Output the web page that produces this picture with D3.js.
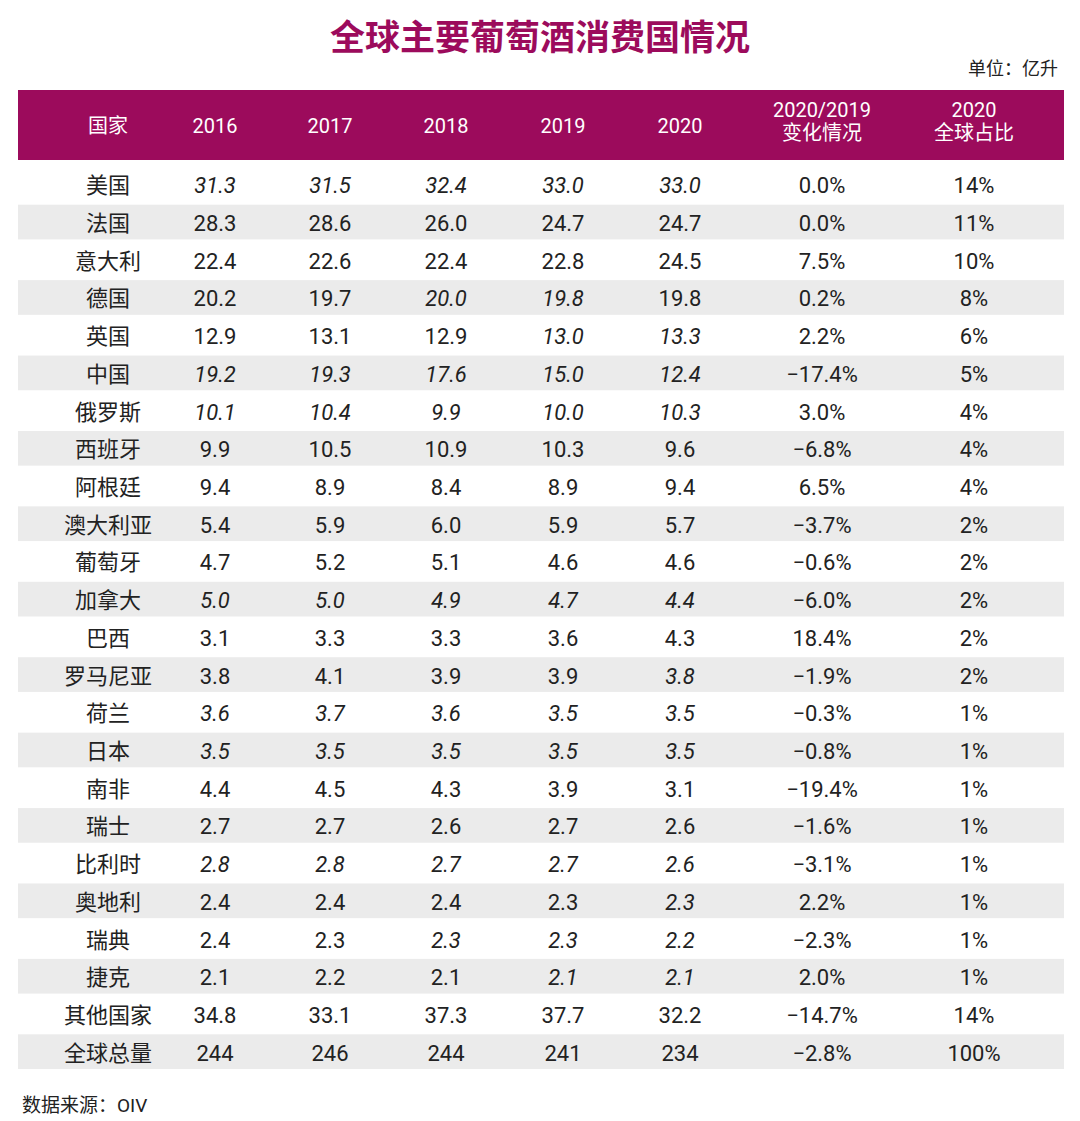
<!DOCTYPE html>
<html><head><meta charset="utf-8">
<script src="https://cdn.jsdelivr.net/npm/d3@7"></script>
<style>body{margin:0;background:#fff}</style>
</head><body>
<svg id="chart" width="1080" height="1121"></svg>
<script>
// Table data
var countries = ["美国","法国","意大利","德国","英国","中国","俄罗斯","西班牙","阿根廷","澳大利亚","葡萄牙","加拿大","巴西","罗马尼亚","荷兰","日本","南非","瑞士","比利时","奥地利","瑞典","捷克","其他国家","全球总量"];
var years = ["2016","2017","2018","2019","2020"];
var v2016 = ["31.3","28.3","22.4","20.2","12.9","19.2","10.1","9.9","9.4","5.4","4.7","5.0","3.1","3.8","3.6","3.5","4.4","2.7","2.8","2.4","2.4","2.1","34.8","244"];
var v2017 = ["31.5","28.6","22.6","19.7","13.1","19.3","10.4","10.5","8.9","5.9","5.2","5.0","3.3","4.1","3.7","3.5","4.5","2.7","2.8","2.4","2.3","2.2","33.1","246"];
var v2018 = ["32.4","26.0","22.4","20.0","12.9","17.6","9.9","10.9","8.4","6.0","5.1","4.9","3.3","3.9","3.6","3.5","4.3","2.6","2.7","2.4","2.3","2.1","37.3","244"];
var v2019 = ["33.0","24.7","22.8","19.8","13.0","15.0","10.0","10.3","8.9","5.9","4.6","4.7","3.6","3.9","3.5","3.5","3.9","2.7","2.7","2.3","2.3","2.1","37.7","241"];
var v2020 = ["33.0","24.7","24.5","19.8","13.3","12.4","10.3","9.6","9.4","5.7","4.6","4.4","4.3","3.8","3.5","3.5","3.1","2.6","2.6","2.3","2.2","2.1","32.2","234"];
var change = ["0.0%","0.0%","7.5%","0.2%","2.2%","−17.4%","3.0%","−6.8%","6.5%","−3.7%","−0.6%","−6.0%","18.4%","−1.9%","−0.3%","−0.8%","−19.4%","−1.6%","−3.1%","2.2%","−2.3%","2.0%","−14.7%","−2.8%"];
var share = ["14%","11%","10%","8%","6%","5%","4%","4%","4%","2%","2%","2%","2%","2%","1%","1%","1%","1%","1%","1%","1%","1%","14%","100%"];
// italic flags per year column: 1 = italic
var italicMask = ["11111","00000","00000","00110","00011","11111","11111","00000","00000","00000","00000","11111","00000","00001","11111","11111","00000","00000","11111","00001","00111","00011","00000","00000"];

var svg = d3.select("#chart");
var font = "Roboto, 'Noto Sans CJK SC', sans-serif";
var magenta = "#9c0b5c";

var cols = ["country"].concat(years).concat(["change","share"]);
var colX = {country:108, "2016":215, "2017":330, "2018":446, "2019":563, "2020":680, change:822, share:974};
var y = d3.scaleBand().domain(d3.range(countries.length)).range([167, 1069]).paddingInner(0.08);

svg.append("text").attr("x", 540).attr("y", 50).attr("text-anchor","middle")
  .attr("font-family","'Noto Sans CJK SC', sans-serif").attr("font-weight","bold")
  .attr("font-size", 35).attr("fill", magenta).text("全球主要葡萄酒消费国情况");
svg.append("text").attr("x", 1058).attr("y", 75).attr("text-anchor","end")
  .attr("font-family","'Noto Sans CJK SC', sans-serif").attr("font-size", 18).attr("fill","#222").text("单位：亿升");

svg.append("rect").attr("x", 18).attr("y", 90).attr("width", 1046).attr("height", 70).attr("fill", magenta);
var headers = [["国家"],["2016"],["2017"],["2018"],["2019"],["2020"],["2020/2019","变化情况"],["2020","全球占比"]];
headers.forEach(function(h, i) {
  var t = svg.append("text").attr("x", colX[cols[i]]).attr("text-anchor","middle")
    .attr("font-family", font).attr("font-size", 20).attr("fill","#fff");
  h.forEach(function(line, j) {
    t.append("tspan").attr("x", colX[cols[i]])
      .attr("y", h.length == 1 ? 133 : 117 + j * 23).text(line);
  });
});

var rows = svg.append("g").selectAll("g").data(countries).join("g")
  .attr("transform", function(d, i) { return "translate(0," + y(i) + ")"; });
rows.append("rect").attr("x", 18).attr("width", 1046).attr("height", y.bandwidth())
  .attr("fill", function(d, i) { return i % 2 ? "#ebebeb" : "#fff"; });

var series = [v2016, v2017, v2018, v2019, v2020];
rows.each(function(name, i) {
  var g = d3.select(this);
  var cells = [name].concat(series.map(function(s) { return s[i]; })).concat([change[i], share[i]]);
  cells.forEach(function(txt, c) {
    var it = c >= 1 && c <= 5 && italicMask[i][c - 1] == "1";
    g.append("text").attr("x", colX[cols[c]]).attr("y", y.bandwidth() / 2 + 9)
      .attr("text-anchor","middle").attr("font-family", font).attr("font-size", 22)
      .attr("font-style", it ? "italic" : "normal").attr("fill","#222").text(txt);
  });
});

svg.append("text").attr("x", 22).attr("y", 1112).attr("font-family", font)
  .attr("font-size", 19).attr("fill","#222").text("数据来源：OIV");
</script>
</body></html>
